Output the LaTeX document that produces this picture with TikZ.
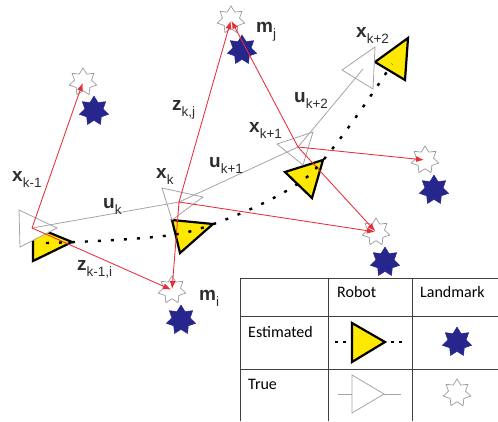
\documentclass[tikz,border=0pt]{standalone}
\usepackage{fontspec}
\setmainfont{Liberation Sans}
\newfontfamily\tabfont{Carlito}
\usetikzlibrary{shapes.geometric,arrows.meta}
\definecolor{redz}{RGB}{232,45,55}
\definecolor{grayu}{RGB}{165,165,165}
\definecolor{navyst}{RGB}{38,38,140}
\definecolor{yel}{RGB}{255,232,0}
\definecolor{labc}{RGB}{45,45,45}
\newcommand\lbl[2]{{\bfseries #1}\raisebox{-6pt}{\fontsize{13.5}{13.5}\selectfont #2}}
\begin{document}
\begin{tikzpicture}[x=1pt,y=-1pt,
  truepose/.style={draw=grayu, fill=white, line width=0.8pt, line join=miter},
  estpose/.style={draw=black, fill=yel, line width=2.2pt, line join=miter},
  ulink/.style={draw=grayu, line width=0.8pt},
  zlink/.style={draw=redz, line width=0.85pt, -{Latex[length=8pt,width=6pt]}, shorten >=1pt},
  traj/.style={draw=black, line width=2.4pt, dash pattern=on 3pt off 10pt},
  truelm/.style={star, star points=7, star point ratio=1.6, minimum size=28pt, inner sep=0pt, draw=gray!80, fill=white, line width=0.7pt},
  estlm/.style={star, star points=7, star point ratio=1.6, minimum size=30pt, inner sep=0pt, draw=navyst, fill=navyst},
  lab/.style={text=labc, anchor=base west, inner sep=0pt, font=\fontsize{19}{19}\selectfont},
  tab/.style={font=\tabfont\fontsize{16}{16}\selectfont, text=black, inner sep=0pt, anchor=base west},
  grid/.style={draw=black!75, line width=0.8pt}
]
\useasboundingbox (0,0) rectangle (498,421);

% ---------- landmarks ----------
\node[estlm] (B1) at (94,111) {};
\node[estlm] (B2) at (242,50) {};
\node[estlm] (B3) at (434,190) {};
\node[estlm] (B4) at (385,262) {};
\node[estlm] (B5) at (181,320) {};
\node[truelm] (S1) at (83,82) {};
\node[truelm] (S2) at (231,20) {};
\node[truelm] (S3) at (425,160) {};
\node[truelm] (S4) at (376,232) {};
\node[truelm] (S5) at (172,290) {};

% ---------- estimated poses ----------
\coordinate (e1a) at (33,226); \coordinate (e1b) at (33,261); \coordinate (e1c) at (72,242);
\coordinate (e2a) at (172,220); \coordinate (e2b) at (213,224); \coordinate (e2c) at (180,253);
\coordinate (e3a) at (285,172); \coordinate (e3b) at (323,160); \coordinate (e3c) at (312,198);
\coordinate (e4a) at (375,62); \coordinate (e4b) at (408,38); \coordinate (e4c) at (405,80);
\draw[estpose] (e1a) -- (e1b) -- (e1c) -- cycle;
\draw[estpose] (e2a) -- (e2b) -- (e2c) -- cycle;
\draw[estpose] (e3a) -- (e3b) -- (e3c) -- cycle;
\draw[estpose] (e4a) -- (e4b) -- (e4c) -- cycle;

% ---------- true poses ----------
\coordinate (g1a) at (19,210); \coordinate (g1b) at (20,247); \coordinate (g1c) at (57,228);
\coordinate (g2a) at (162,188); \coordinate (g2b) at (203,197); \coordinate (g2c) at (172,220);
\coordinate (g3a) at (277,144); \coordinate (g3b) at (313,132); \coordinate (g3c) at (303,165);
\coordinate (g4a) at (342,70); \coordinate (g4b) at (375,47); \coordinate (g4c) at (373,89);
\draw[truepose] (g1a) -- (g1b) -- (g1c) -- cycle;
\draw[truepose] (g2a) -- (g2b) -- (g2c) -- cycle;
\draw[truepose] (g3a) -- (g3b) -- (g3c) -- cycle;
\draw[truepose] (g4a) -- (g4b) -- (g4c) -- cycle;

\coordinate (C1) at (32,228);
\coordinate (C2) at (179,202);
\coordinate (C3) at (298,147);
\coordinate (C4) at (363,69);

% ---------- odometry (true) ----------
\draw[ulink] (C1) -- (C2);
\draw[ulink] (C2) -- (C3);
\draw[ulink] (C3) -- (C4);

% ---------- measurements ----------
\draw[zlink] (C1) -- (S1.center);
\draw[zlink] (C1) -- (S5.center);
\draw[zlink] (C2) -- (S2.center);
\draw[zlink] (C2) -- (S5.center);
\draw[zlink] (C2) -- (S4.center);
\draw[zlink] (C3) -- (S2.center);
\draw[zlink] (C3) -- (S3.center);
\draw[zlink] (C3) -- (S4.center);

% ---------- estimated trajectory ----------
\coordinate (D1) at (46,243);
\coordinate (D2) at (188,232);
\coordinate (D3) at (307,177);
\coordinate (D4) at (392,64);
\draw[traj] plot[smooth, tension=0.45] coordinates {(D1) (D2) (D3) (D4)};

% ---------- labels ----------
\node[lab] (lxkm1) at (12,181) {\lbl{x}{k-1}};
\node[lab] (lzkj) at (172,110) {\lbl{z}{k,j}};
\node[lab] (luk) at (103,208) {\lbl{u}{k}};
\node[lab] (lxk) at (156,178) {\lbl{x}{k}};
\node[lab] (lukp1) at (209,167) {\lbl{u}{k+1}};
\node[lab] (lzkm1) at (77,270) {\lbl{z}{k-1,i}};
\node[lab] (lmi) at (199,300) {\lbl{m}{i}};
\node[lab] (lmj) at (256,32) {\lbl{m}{j}};
\node[lab] (lxkp2) at (356,37) {\lbl{x}{k+2}};
\node[lab] (lukp2) at (294,102) {\lbl{u}{k+2}};
\node[lab] (lxkp1) at (249,132) {\lbl{x}{k+1}};

% ---------- legend ----------
\draw[grid] (240,278) -- (498,278);
\draw[grid] (240,316) -- (498,316);
\draw[grid] (240,369) -- (498,369);
\draw[grid] (240,278) -- (240,421);
\draw[grid] (328,278) -- (328,421);
\draw[grid] (412,278) -- (412,421);
\node[tab] (hrobot) at (337,297) {Robot};
\node[tab] (hland) at (420,297) {Landmark};
\node[tab] (hest) at (248,337) {Estimated};
\node[tab] (htrue) at (248,389) {True};

\coordinate (lt1) at (335,342); \coordinate (lt2) at (402,342);
\draw[traj, line width=2pt, dash pattern=on 2.5pt off 5.5pt] (lt1) -- (lt2);
\coordinate (lea) at (352,323); \coordinate (leb) at (352,362); \coordinate (lec) at (385,342);
\draw[estpose] (lea) -- (leb) -- (lec) -- cycle;
\coordinate (lu1) at (338,394); \coordinate (lu2) at (401,394);
\draw[ulink] (lu1) -- (lu2);
\coordinate (lga) at (352,375); \coordinate (lgb) at (352,413); \coordinate (lgc) at (384,394);
\draw[truepose] (lga) -- (lgb) -- (lgc) -- cycle;
\node[estlm] (LB) at (457,342) {};
\node[truelm] (LS) at (457,393) {};
\end{tikzpicture}
\end{document}
